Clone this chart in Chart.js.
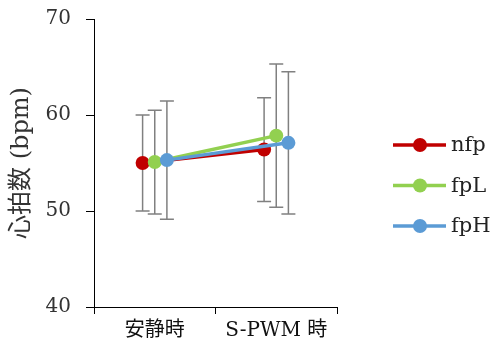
<!DOCTYPE html>
<html>
<head>
<meta charset="utf-8">
<script src="https://cdn.jsdelivr.net/npm/chart.js@4/dist/chart.umd.min.js"></script>
<style>
  html, body { margin: 0; padding: 0; background: #fff; }
  #wrap { width: 494px; height: 346px; }
</style>
</head>
<body>
<div id="wrap"><canvas id="c" width="494" height="346"></canvas></div>
<script>
// Heart rate (mean ± SD) at rest and during S-PWM, three conditions
const categories = ['安静時', 'S-PWM 時'];
const seriesNames = ['nfp', 'fpL', 'fpH'];
const nfp    = [55.0, 56.4];
const nfpSd  = [5.0, 5.4];
const fpL    = [55.1, 57.85];
const fpLSd  = [5.4, 7.45];
const fpH    = [55.3, 57.1];
const fpHSd  = [6.15, 7.4];
const yTicks = [40, 50, 60, 70];

const colors = ['#C00000', '#92D050', '#5B9BD5'];
const shift = [-0.1, 0, 0.1];           // horizontal spread of the three series within a category
const values = [nfp, fpL, fpH];
const sds = [nfpSd, fpLSd, fpHSd];

const serif = '"DejaVu Serif", "Noto Sans CJK JP", serif';

const datasets = seriesNames.map((name, i) => ({
  label: name,
  data: values[i].map((v, j) => ({ x: j + 0.5 + shift[i], y: v, sd: sds[i][j] })),
  xAxisID: 'xv',
  yAxisID: 'y',
  borderColor: colors[i],
  backgroundColor: colors[i],
  borderWidth: 3.5,
  pointRadius: 7,
  pointHoverRadius: 7,
  pointBorderWidth: 0,
  tension: 0,
  order: 3 - i
}));

// whiskers with caps, drawn under the lines and markers
const errorBars = {
  id: 'errorBars',
  beforeDatasetsDraw(chart) {
    const ctx = chart.ctx;
    const xs = chart.scales.xv, ys = chart.scales.y;
    ctx.save();
    ctx.strokeStyle = '#808080';
    ctx.lineWidth = 1.5;
    chart.data.datasets.forEach(ds => {
      ds.data.forEach(p => {
        const x = xs.getPixelForValue(p.x);
        const top = ys.getPixelForValue(p.y + p.sd);
        const bot = ys.getPixelForValue(p.y - p.sd);
        ctx.beginPath();
        ctx.moveTo(x, top); ctx.lineTo(x, bot);
        ctx.moveTo(x - 7, top); ctx.lineTo(x + 7, top);
        ctx.moveTo(x - 7, bot); ctx.lineTo(x + 7, bot);
        ctx.stroke();
      });
    });
    ctx.restore();
  }
};

// legend on the right: line with a round marker, then the series name
const sideLegend = {
  id: 'sideLegend',
  afterDraw(chart) {
    const ctx = chart.ctx;
    ctx.save();
    chart.data.datasets.forEach((ds, i) => {
      const y = 145 + i * 40.5;
      ctx.strokeStyle = ds.borderColor;
      ctx.lineWidth = 3.5;
      ctx.beginPath();
      ctx.moveTo(393, y); ctx.lineTo(446, y);
      ctx.stroke();
      ctx.fillStyle = ds.backgroundColor;
      ctx.beginPath();
      ctx.arc(420, y, 7, 0, Math.PI * 2);
      ctx.fill();
      ctx.fillStyle = '#222';
      ctx.font = '21px ' + serif;
      ctx.textAlign = 'left';
      ctx.textBaseline = 'middle';
      ctx.fillText(ds.label, 451, y + 1);
    });
    ctx.restore();
  }
};

new Chart(document.getElementById('c'), {
  type: 'line',
  data: { labels: categories, datasets },
  options: {
    responsive: false,
    animation: false,
    layout: { padding: { top: 19, right: 157, left: 0, bottom: 0 } },
    plugins: { legend: { display: false }, tooltip: { enabled: false } },
    scales: {
      x: {
        type: 'category',
        labels: categories,
        offset: true,
        grid: { offset: true, drawOnChartArea: false, drawTicks: true, tickLength: 7, color: '#000' },
        border: { display: true, color: '#000', width: 1 },
        ticks: { color: '#111', padding: 5, font: { family: serif, size: 20 } },
        afterFit(s) { s.height = 39; s.paddingLeft = 0; s.paddingRight = 0; }
      },
      xv: {
        type: 'linear',
        display: false,
        min: 0,
        max: 2
      },
      y: {
        min: 40,
        max: 70,
        afterBuildTicks(s) { s.ticks = yTicks.map(v => ({ value: v })); },
        grid: { drawOnChartArea: false, drawTicks: true, tickLength: 8, color: '#000' },
        border: { display: true, color: '#000', width: 1 },
        ticks: { color: '#333', padding: 15, font: { family: serif, size: 20 } },
        title: {
          display: true,
          text: '心拍数 (bpm)',
          color: '#333',
          font: { family: serif, size: 24 },
          padding: { top: 7, bottom: 0 }
        },
        afterFit(s) { s.width = 94; s.paddingTop = 0; s.paddingBottom = 0; }
      }
    }
  },
  plugins: [errorBars, sideLegend]
});
</script>
</body>
</html>
